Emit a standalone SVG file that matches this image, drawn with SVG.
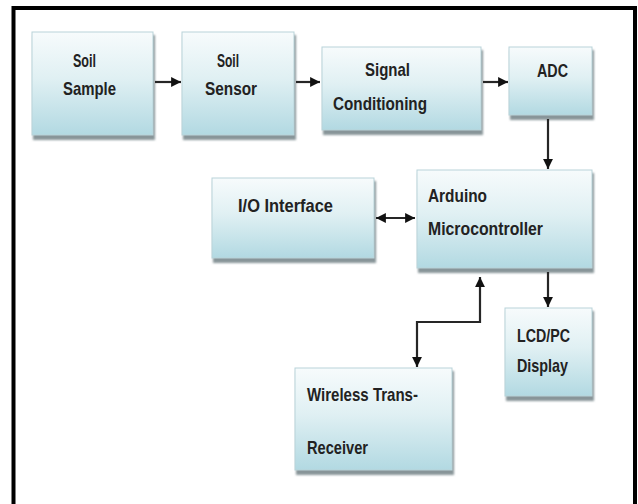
<svg xmlns="http://www.w3.org/2000/svg" width="638" height="504" viewBox="0 0 638 504">
<defs>
<linearGradient id="g" x1="0" y1="0" x2="0" y2="1">
<stop offset="0" stop-color="#f7fbfc"/>
<stop offset="0.45" stop-color="#e0f0f3"/>
<stop offset="1" stop-color="#b2d9e2"/>
</linearGradient>
<filter id="sh" x="-10%" y="-10%" width="130%" height="130%">
<feGaussianBlur stdDeviation="1"/>
</filter>
<marker id="ah" viewBox="0 0 10 10" refX="10" refY="5" markerWidth="4.5" markerHeight="4.5" orient="auto-start-reverse" markerUnits="strokeWidth">
<path d="M0,0 L10,5 L0,10 z" fill="#111"/>
</marker>
</defs>
<style>
.box{fill:url(#g);stroke:#b9d3d9;stroke-width:1}
.shadow{fill:#889599;filter:url(#sh)}
.t{font-family:"Liberation Sans",Arial,sans-serif;font-size:19px;font-weight:bold;fill:#222}
.c{fill:none;stroke:#262626;stroke-width:2.2}
</style>
<rect width="638" height="504" fill="#fff"/>
<path d="M13.5,504 V8 H635 V504" fill="none" stroke="#000" stroke-width="4"/>

<g id="soil-sample">
<rect class="shadow" x="33" y="35" width="122" height="105"/>
<rect class="box" x="32" y="32" width="121" height="103"/>
<text class="t" x="73" y="67" textLength="23" lengthAdjust="spacingAndGlyphs">Soil</text>
<text class="t" x="63" y="95" textLength="53" lengthAdjust="spacingAndGlyphs">Sample</text>
</g>

<g id="soil-sensor">
<rect class="shadow" x="183" y="35" width="113" height="105"/>
<rect class="box" x="182" y="32" width="112" height="103"/>
<text class="t" x="217" y="67" textLength="22" lengthAdjust="spacingAndGlyphs">Soil</text>
<text class="t" x="205" y="95" textLength="52" lengthAdjust="spacingAndGlyphs">Sensor</text>
</g>

<g id="signal-conditioning">
<rect class="shadow" x="323" y="50" width="160" height="85"/>
<rect class="box" x="322" y="47" width="159" height="83"/>
<text class="t" x="365" y="76" textLength="45" lengthAdjust="spacingAndGlyphs">Signal</text>
<text class="t" x="333" y="110" textLength="94" lengthAdjust="spacingAndGlyphs">Conditioning</text>
</g>

<g id="adc">
<rect class="shadow" x="510" y="50" width="84" height="70"/>
<rect class="box" x="509" y="47" width="83" height="68"/>
<text class="t" x="537" y="77" textLength="31" lengthAdjust="spacingAndGlyphs">ADC</text>
</g>

<g id="arduino">
<rect class="shadow" x="418" y="173" width="176" height="100"/>
<rect class="box" x="417" y="170" width="175" height="98"/>
<text class="t" x="428" y="202" textLength="59" lengthAdjust="spacingAndGlyphs">Arduino</text>
<text class="t" x="428" y="235" textLength="115" lengthAdjust="spacingAndGlyphs">Microcontroller</text>
</g>

<g id="io-interface">
<rect class="shadow" x="213" y="181" width="163" height="82"/>
<rect class="box" x="212" y="178" width="162" height="80"/>
<text class="t" x="238" y="212" textLength="95" lengthAdjust="spacingAndGlyphs">I/O Interface</text>
</g>

<g id="lcd-display">
<rect class="shadow" x="506" y="311" width="88" height="90"/>
<rect class="box" x="505" y="308" width="87" height="88"/>
<text class="t" x="517" y="342" textLength="53" lengthAdjust="spacingAndGlyphs">LCD/PC</text>
<text class="t" x="517" y="372" textLength="51" lengthAdjust="spacingAndGlyphs">Display</text>
</g>

<g id="wireless">
<rect class="shadow" x="296" y="371" width="158" height="104"/>
<rect class="box" x="295" y="368" width="157" height="102"/>
<text class="t" x="307" y="401" textLength="111" lengthAdjust="spacingAndGlyphs">Wireless Trans-</text>
<text class="t" x="307" y="454" textLength="61" lengthAdjust="spacingAndGlyphs">Receiver</text>
</g>

<g id="connectors">
<line class="c" x1="155" y1="82" x2="181" y2="82" marker-end="url(#ah)"/>
<line class="c" x1="296" y1="82" x2="320" y2="82" marker-end="url(#ah)"/>
<line class="c" x1="483" y1="82" x2="508" y2="82" marker-end="url(#ah)"/>
<line class="c" x1="548" y1="119" x2="548" y2="169" marker-end="url(#ah)"/>
<line class="c" x1="376" y1="218" x2="415" y2="218" marker-start="url(#ah)" marker-end="url(#ah)"/>
<line class="c" x1="548" y1="272" x2="548" y2="307" marker-end="url(#ah)"/>
<polyline class="c" points="417,367 417,322 480,322 480,277" marker-start="url(#ah)" marker-end="url(#ah)"/>
</g>
</svg>
